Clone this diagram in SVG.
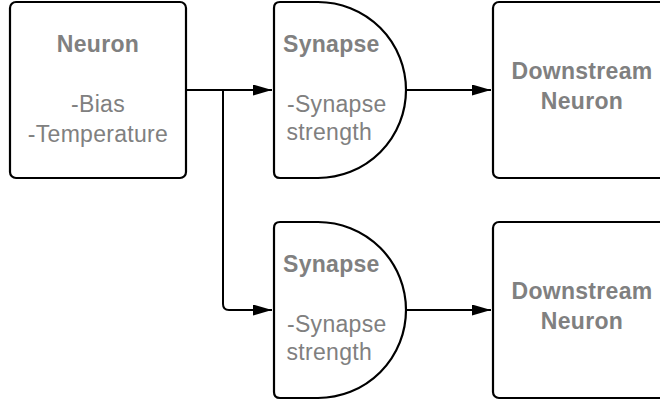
<svg xmlns="http://www.w3.org/2000/svg" width="660" height="402" viewBox="0 0 660 402">
<style>
.shape{fill:#fff;stroke:#000;stroke-width:2.2}
.conn{fill:none;stroke:#000;stroke-width:2}
text{font-family:"Liberation Sans",Arial,sans-serif;font-size:23px;fill:#808080;letter-spacing:0.3px}
.b{font-weight:bold}
.c{text-anchor:middle}
</style>
<defs>
<marker id="arr" markerUnits="userSpaceOnUse" markerWidth="20" markerHeight="12" refX="19" refY="5.5" orient="auto">
<path d="M0,0 L19,5.5 L0,11 Z" fill="#000"/>
</marker>
</defs>
<rect width="660" height="402" fill="#fff"/>
<g id="connectors">
<line class="conn" x1="186" y1="90" x2="272" y2="90" marker-end="url(#arr)"/>
<path class="conn" d="M223,90 V304 Q223,310 229,310 H272" marker-end="url(#arr)"/>
<line class="conn" x1="406" y1="90" x2="491" y2="90" marker-end="url(#arr)"/>
<line class="conn" x1="407" y1="310" x2="491" y2="310" marker-end="url(#arr)"/>
</g>
<g id="neuron">
<rect class="shape" x="10" y="2" width="176" height="176" rx="6"/>
<text class="b c" x="98" y="52">Neuron</text>
<text class="c" x="98" y="111.5">-Bias</text>
<text class="c" x="98" y="141.5">-Temperature</text>
</g>
<g id="synapse1">
<path class="shape" d="M280,2 H318 A88,88 0 0 1 318,178 H280 Q274,178 274,172 V8 Q274,2 280,2 Z"/>
<text class="b" x="283" y="52">Synapse</text>
<text x="287" y="111.5">-Synapse</text>
<text x="286.5" y="140">strength</text>
</g>
<g id="downstream1">
<rect class="shape" x="493" y="2" width="180" height="176" rx="6"/>
<text class="b c" x="582" y="78.5">Downstream</text>
<text class="b c" x="582" y="108.5">Neuron</text>
</g>
<g id="synapse2">
<path class="shape" d="M280,222 H318 A88,88 0 0 1 318,398 H280 Q274,398 274,392 V228 Q274,222 280,222 Z"/>
<text class="b" x="283" y="272">Synapse</text>
<text x="287" y="331.5">-Synapse</text>
<text x="286.5" y="360">strength</text>
</g>
<g id="downstream2">
<rect class="shape" x="493" y="222" width="180" height="176" rx="6"/>
<text class="b c" x="582" y="298.5">Downstream</text>
<text class="b c" x="582" y="328.5">Neuron</text>
</g>
</svg>
